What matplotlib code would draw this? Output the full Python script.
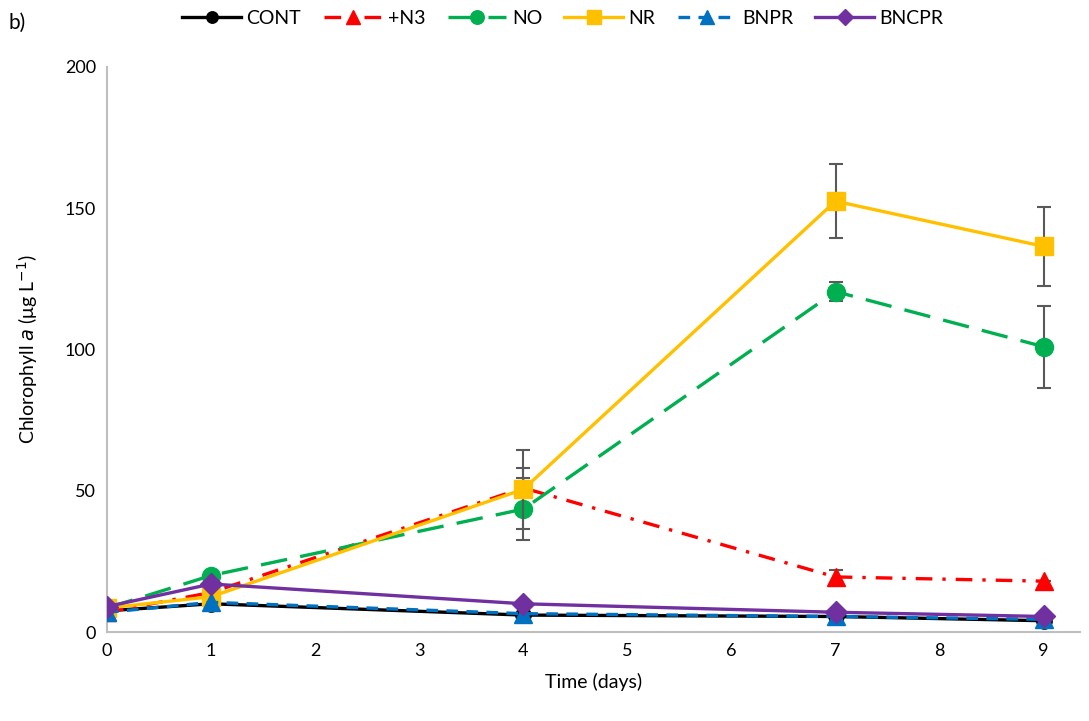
import matplotlib
matplotlib.use("Agg")
import matplotlib.pyplot as plt
from matplotlib.lines import Line2D

days = [0, 1, 4, 7, 9]
cont = [7.5, 10.0, 6.0, 5.5, 4.0]
n3 = [7.0, 14.0, 51.0, 19.5, 18.0]
n3_err = [0, 0, 7, 2.5, 0]
no = [8.5, 20.0, 43.5, 120.5, 101.0]
no_err = [0, 0, 11, 3.5, 14.5]
nr = [8.5, 12.5, 50.5, 152.5, 136.5]
nr_err = [0, 0, 14, 13, 14]
bnpr = [7.0, 10.5, 6.5, 5.5, 4.5]
bncpr = [9.0, 17.0, 10.0, 7.0, 5.5]
labels = ['CONT', '+N3', 'NO', 'NR', 'BNPR', 'BNCPR']

plt.rcParams['font.family'] = ['Lato', 'DejaVu Sans']

fig = plt.figure(figsize=(10.89, 7.21), dpi=100)
ax = fig.add_axes([0.0983, 0.1234, 0.8935, 0.7837])

lw = 2.4
ms = 13
ecol = '#595959'
ebkw = dict(ecolor=ecol, elinewidth=1.5, capsize=5, capthick=1.5)

styles = [
    dict(color='black', ls='-', marker='o', ms=ms - 2),
    dict(color='#ff0000', ls=(0, (5, 3, 1, 3)), marker='^', ms=ms),
    dict(color='#00b050', ls=(0, (8, 4)), marker='o', ms=ms),
    dict(color='#ffc000', ls='-', marker='s', ms=ms),
    dict(color='#0070c0', ls=(0, (3.5, 2.5)), marker='^', ms=ms),
    dict(color='#7030a0', ls='-', marker='D', ms=ms - 2),
]
series = [cont, n3, no, nr, bnpr, bncpr]
errs = [None, n3_err, no_err, nr_err, None, None]

for i, (y, e, st) in enumerate(zip(series, errs, styles)):
    if e is None:
        ax.plot(days, y, lw=lw, zorder=3 + i, **st)
    else:
        ax.errorbar(days, y, yerr=e, lw=lw, zorder=3 + i, **st, **ebkw)

ax.set_xlim(0, 9.35)
ax.set_ylim(0, 200)
ax.set_xticks(range(10))
ax.set_yticks([0, 50, 100, 150, 200])
for s in ['top', 'right']:
    ax.spines[s].set_visible(False)
for s in ['left', 'bottom']:
    ax.spines[s].set_color('#bfbfbf')
    ax.spines[s].set_linewidth(1.5)
ax.tick_params(length=0, labelsize=13, colors='#000000', pad=8)

ax.set_xlabel('Time (days)', fontsize=14, labelpad=10)
ax.set_ylabel(r'Chlorophyll $\mathit{a}$ ($\mathregular{\mu}$g L$^{-1}$)', fontsize=14, labelpad=18)

handles = []
for st in styles:
    h = Line2D([], [], lw=lw, color=st['color'], ls=st['ls'], marker=st['marker'],
               ms=st['ms'] * 0.75)
    handles.append(h)
fig.legend(handles, labels, loc='center', bbox_to_anchor=(0.517, 0.975), ncol=6,
           frameon=False, fontsize=14, handlelength=3.0, handletextpad=0.3,
           columnspacing=1.15)

fig.text(0.008, 0.968, 'b)', fontsize=15, va='center')

fig.savefig('out.png', dpi=100)
